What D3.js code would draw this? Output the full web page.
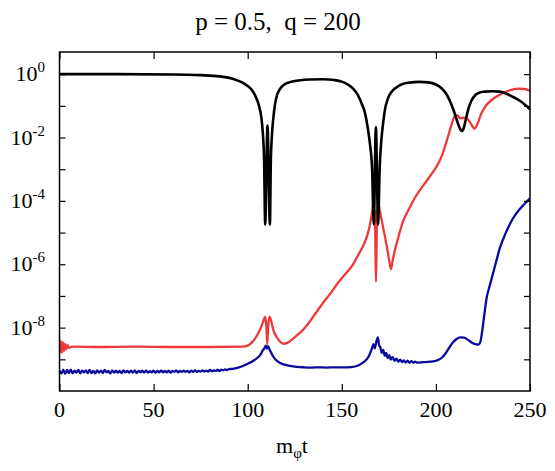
<!DOCTYPE html>
<html><head><meta charset="utf-8">
<script src="https://cdn.jsdelivr.net/npm/d3@7"></script>
<style>
html,body{margin:0;padding:0;background:#fff;}
</style></head>
<body><svg id="c" width="555" height="471"></svg>
<script>
// ---------- data ----------
const title = "p = 0.5,\u00a0\u00a0q = 200";
const xTicks = [0, 50, 100, 150, 200, 250];
const yTickExps = [0, -2, -4, -6, -8];
const yMinorExps = [0, -1, -2, -3, -4, -5, -6, -7, -8, -9];

const blackT = [0, 30, 60, 75, 85, 92, 97, 100, 102.5, 104.5, 106, 107.2, 108, 108.7, 109.3, 110.5, 111.8, 112.3, 112.8, 113.6, 114.5, 115.6, 117, 119, 122, 127, 133, 140, 146, 150, 153, 156, 158.5, 160.5, 162.3, 163.8, 165, 166.1, 167.0, 168.1, 169.3, 170.1, 171, 172, 173, 174.5, 176.5, 179, 182, 186, 191, 196, 200, 203, 205.5, 207.5, 209.5, 211.3, 213, 213.8, 214.8, 216, 217.5, 219, 221, 223, 226, 230, 234, 237.5, 241, 245, 250];
const blackV = [1.0, 1.0, 0.98, 0.93, 0.85, 0.72, 0.55, 0.42, 0.3, 0.18, 0.1, 0.045, 0.015, 0.002, 1.8e-5, 0.024, 1.8e-5, 0.002, 0.01, 0.04, 0.11, 0.22, 0.33, 0.45, 0.55, 0.63, 0.68, 0.69, 0.65, 0.58, 0.48, 0.35, 0.22, 0.12, 0.06, 0.02, 0.006, 0.001, 1.8e-5, 0.021, 1.8e-5, 0.001, 0.008, 0.03, 0.08, 0.17, 0.28, 0.38, 0.48, 0.54, 0.57, 0.55, 0.47, 0.36, 0.24, 0.14, 0.07, 0.033, 0.018, 0.016, 0.02, 0.04, 0.09, 0.15, 0.22, 0.26, 0.28, 0.29, 0.28, 0.24, 0.19, 0.14, 0.078];

const redT = [0, 0.4, 0.8, 1.2, 1.6, 2.0, 2.5, 3.0, 3.6, 4.3, 5, 7, 20, 40, 60, 80, 97.5, 100, 102, 104, 105.5, 107, 108.3, 109.2, 109.9, 110.4, 110.9, 111.7, 112.6, 113.5, 115, 117, 119, 121, 123.5, 126, 129, 132, 136, 140, 144, 148, 152, 156, 159, 161.5, 163.5, 165, 166, 166.9, 167.6, 168.2, 168.7, 169.4, 170.5, 172, 173.8, 175.2, 176.1, 177, 178.3, 180, 182.5, 186, 189, 192, 195, 198, 201, 203.5, 205.5, 207.3, 208.8, 210.2, 211.5, 212.8, 214.5, 216.4, 218.5, 220.5, 222, 224, 226.5, 229.5, 232.5, 236, 240, 244, 247, 250];
const redV = [2.5e-9, 3.9e-9, 1.6e-9, 3.6e-9, 1.7e-9, 3.3e-9, 1.9e-9, 3.0e-9, 2.1e-9, 2.8e-9, 2.3e-9, 2.5e-9, 2.45e-9, 2.5e-9, 2.45e-9, 2.45e-9, 2.5e-9, 2.7e-9, 3.3e-9, 4.6e-9, 6.5e-9, 1.0e-8, 1.6e-8, 2.2e-8, 1.2e-8, 3e-9, 1.2e-8, 2.2e-8, 1.5e-8, 9e-9, 5.5e-9, 3.7e-9, 3.1e-9, 3.3e-9, 4.2e-9, 5.6e-9, 8e-9, 1.3e-8, 2.8e-8, 6e-8, 1.2e-7, 2.6e-7, 5e-7, 1e-6, 2.1e-6, 4e-6, 8e-6, 1.8e-5, 4e-5, 8e-5, 3e-5, 2.8e-7, 3e-5, 8e-5, 4e-5, 1.4e-5, 4e-6, 1.3e-6, 7e-7, 1.3e-6, 2.9e-6, 7e-6, 2.2e-5, 6e-5, 1.3e-4, 2.4e-4, 4.2e-4, 7.5e-4, 1.4e-3, 3e-3, 7e-3, 1.6e-2, 3.2e-2, 5e-2, 5e-2, 4e-2, 4.2e-2, 4e-2, 2.8e-2, 1.9e-2, 2.6e-2, 5.5e-2, 0.1, 0.15, 0.2, 0.26, 0.32, 0.35, 0.34, 0.3];

const blueT = [0, 1, 2, 3, 4, 5, 6, 7, 8, 9, 10, 11, 12, 13, 14, 15, 16, 17, 18, 19, 20, 21, 22, 23, 24, 25, 26, 27, 28, 29, 30, 31, 32, 33, 34, 35, 36, 37, 38, 39, 40, 41, 42, 43, 44, 45, 46, 47, 48, 49, 50, 51, 52, 53, 54, 55, 56, 57, 58, 59, 60, 61, 62, 63, 64, 65, 66, 67, 68, 69, 70, 71, 72, 73, 74, 75, 76, 77, 78, 79, 80, 81, 82, 83, 84, 85, 86, 87, 88, 89, 90, 92, 95, 98, 100.5, 103, 105, 106.8, 108, 109, 109.6, 110.2, 110.8, 111.5, 112.5, 113.5, 115, 117, 119.5, 122.5, 126, 130, 134, 138, 142, 146, 150, 155, 159, 162, 164.5, 166, 166.8, 167.5, 168.3, 169.2, 169.8, 170.5, 171.2, 172, 172.8, 173.6, 174.4, 175.2, 176, 177, 178, 179, 180, 181, 182, 183, 184, 185, 186, 187, 188, 189, 190, 193, 197, 200.5, 203, 205, 207, 209, 211, 213, 215, 217, 219, 221, 222.5, 223.5, 224.5, 225.5, 227, 228.5, 230, 232, 234.1, 236.5, 239.4, 242, 244.7, 247.5, 250];
const blueV = [4.4e-10, 3.6e-10, 4.7e-10, 3.5e-10, 4.6e-10, 3.7e-10, 4.7e-10, 3.6e-10, 4.4e-10, 3.8e-10, 4.6e-10, 3.6e-10, 4.4e-10, 3.9e-10, 4.5e-10, 3.7e-10, 4.6e-10, 3.7e-10, 4.3e-10, 3.6e-10, 4.5e-10, 3.8e-10, 4.4e-10, 3.7e-10, 4.6e-10, 3.9e-10, 4.3e-10, 3.6e-10, 4.5e-10, 3.8e-10, 4.4e-10, 3.8e-10, 4.3e-10, 3.7e-10, 4.5e-10, 3.9e-10, 4.3e-10, 3.8e-10, 4.4e-10, 3.8e-10, 4.5e-10, 3.7e-10, 4.3e-10, 3.9e-10, 4.4e-10, 3.8e-10, 4.5e-10, 3.8e-10, 4.2e-10, 3.9e-10, 4.4e-10, 3.8e-10, 4.3e-10, 3.9e-10, 4.5e-10, 3.9e-10, 4.3e-10, 3.9e-10, 4.4e-10, 3.8e-10, 4.3e-10, 4.0e-10, 4.5e-10, 3.9e-10, 4.3e-10, 4.0e-10, 4.4e-10, 4.0e-10, 4.3e-10, 3.9e-10, 4.4e-10, 4.0e-10, 4.5e-10, 4.0e-10, 4.3e-10, 4.1e-10, 4.5e-10, 4.1e-10, 4.4e-10, 4.1e-10, 4.6e-10, 4.2e-10, 4.5e-10, 4.3e-10, 4.7e-10, 4.3e-10, 4.7e-10, 4.5e-10, 4.8e-10, 4.6e-10, 4.9e-10, 5.0e-10, 5.5e-10, 6.4e-10, 7.5e-10, 9e-10, 1.1e-9, 1.4e-9, 1.9e-9, 2.3e-9, 2.7e-9, 2.2e-9, 2.6e-9, 2.1e-9, 1.6e-9, 1.25e-9, 9.5e-10, 7.8e-10, 6.8e-10, 6.2e-10, 5.8e-10, 5.6e-10, 5.5e-10, 5.6e-10, 5.5e-10, 5.6e-10, 5.6e-10, 5.7e-10, 6.5e-10, 8.5e-10, 1.3e-9, 2.2e-9, 3.0e-9, 2.2e-9, 3.5e-9, 4.9e-9, 2.8e-9, 2.4e-9, 1.6e-9, 2.0e-9, 1.3e-9, 1.6e-9, 1.1e-9, 1.35e-9, 9.8e-10, 1.2e-9, 9e-10, 1.05e-9, 8.4e-10, 9.8e-10, 8.2e-10, 9.2e-10, 7.9e-10, 9e-10, 7.8e-10, 8.8e-10, 7.8e-10, 8.5e-10, 7.9e-10, 8.1e-10, 8.4e-10, 9.2e-10, 1.1e-9, 1.5e-9, 2.3e-9, 3.4e-9, 4.4e-9, 4.9e-9, 4.8e-9, 4.1e-9, 3.4e-9, 3.0e-9, 2.9e-9, 3.4e-9, 7e-9, 2e-8, 8.9e-8, 2e-7, 4.3e-7, 1.2e-6, 3.4e-6, 8e-6, 1.9e-5, 3.5e-5, 5.6e-5, 8.5e-5, 1.2e-4];

const seriesColors = ["#000000", "#f03838", "#0a0a9e"];
const FONT = "'Liberation Serif', 'Times New Roman', 'DejaVu Serif', serif";

// ---------- chart ----------
const svg = d3.select("#c");
const L = 59.5, R = 530, T = 52, B = 391;
const x = d3.scaleLinear().domain([0, 250]).range([L, R]);
const y = d3.scaleLog().domain([1e-10, 5]).range([B, T]);

const clip = svg.append("defs").append("clipPath").attr("id", "pc");
clip.append("rect").attr("x", L).attr("y", T).attr("width", R - L).attr("height", B - T);

const line = d3.line().x(d => x(d[0])).y(d => y(d[1])).curve(d3.curveMonotoneX);
const series = [
  [blackT, blackV],
  [redT, redV],
  [blueT, blueV]
];
const g = svg.append("g").attr("clip-path", "url(#pc)");
[2, 1, 0].forEach(i => {
  const [ts, vs] = series[i];
  g.append("path")
    .datum(ts.map((t, k) => [t, vs[k]]))
    .attr("d", line)
    .attr("fill", "none")
    .attr("stroke", seriesColors[i])
    .attr("stroke-width", i === 0 ? 2.6 : 2.3)
    .attr("stroke-linejoin", "round");
});

// axes (ticks inside)
const tickVals = yMinorExps.map(e => Math.pow(10, e));
svg.append("g").attr("transform", `translate(${L},0)`)
  .call(d3.axisRight(y).tickValues(tickVals).tickSize(6).tickFormat(""))
  .call(a => a.select(".domain").remove());
svg.append("g").attr("transform", `translate(${R},0)`)
  .call(d3.axisLeft(y).tickValues(tickVals).tickSize(6).tickFormat(""))
  .call(a => a.select(".domain").remove());
svg.append("g").attr("transform", `translate(0,${B})`)
  .call(d3.axisTop(x).tickValues(xTicks).tickSize(7).tickFormat(""))
  .call(a => a.select(".domain").remove());
svg.append("g").attr("transform", `translate(0,${T})`)
  .call(d3.axisBottom(x).tickValues(xTicks).tickSize(7).tickFormat(""))
  .call(a => a.select(".domain").remove());
svg.selectAll(".tick line").attr("stroke", "#000").attr("stroke-width", 1.2);

svg.append("rect").attr("x", L).attr("y", T).attr("width", R - L).attr("height", B - T)
  .attr("fill", "none").attr("stroke", "#000").attr("stroke-width", 1.5);

// y labels
yTickExps.forEach(e => {
  const t = svg.append("text")
    .attr("x", 45).attr("y", y(Math.pow(10, e)) + 7)
    .attr("text-anchor", "end").attr("font-size", 22).attr("font-family", FONT);
  t.append("tspan").text("10");
  t.append("tspan").attr("font-size", 15).attr("dy", -9).text(e === 0 ? "0" : "-" + Math.abs(e));
});

// x labels
xTicks.forEach(v => {
  svg.append("text").attr("x", x(v)).attr("y", 416.5).attr("font-family", FONT)
    .attr("text-anchor", "middle").attr("font-size", 22).text(v);
});

// x axis title
const xt = svg.append("text").attr("x", 292).attr("y", 453).attr("text-anchor", "middle")
  .attr("font-size", 22).attr("font-family", FONT);
xt.append("tspan").text("m");
xt.append("tspan").attr("font-size", 15).attr("dy", 5).text("\u03c6");
xt.append("tspan").attr("dy", -5).text("t");

// title
svg.append("text").attr("x", 278).attr("y", 30).attr("text-anchor", "middle")
  .attr("font-size", 25).attr("font-family", FONT).text(title);
</script></body></html>
